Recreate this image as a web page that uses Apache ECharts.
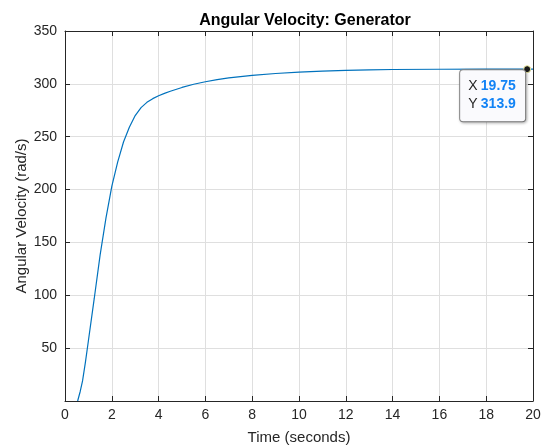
<!DOCTYPE html>
<html>
<head>
<meta charset="utf-8">
<script src="https://cdn.jsdelivr.net/npm/echarts@6/dist/echarts.min.js"></script>
<style>html,body{margin:0;padding:0;background:#fff;}#c{width:544px;height:446px;}</style>
</head>
<body>
<div id="c"></div>
<script>
// Data (time in seconds, angular velocity in rad/s)
var timeValues = [0.54, 0.65, 0.75, 0.875, 1.0, 1.25, 1.5, 1.75, 2.0, 2.25, 2.5, 2.75, 3.0, 3.25, 3.5, 3.75, 4.0, 4.25, 4.5, 5.0, 5.5, 6.0, 6.5, 7.0, 7.5, 8.0, 9.0, 10.0, 11.0, 12.0, 13.0, 14.0, 16.0, 18.0, 19.75, 20.0];
var velocityValues = [0, 9, 19, 37, 57, 97, 138, 173, 203, 226, 245, 259, 270, 277.5, 282.5, 286, 288.7, 291, 293, 296.6, 299.6, 302, 304, 305.6, 306.9, 308, 309.8, 311.1, 312.1, 312.8, 313.3, 313.6, 313.8, 313.9, 313.9, 313.9];
var xTicks = [0, 2, 4, 6, 8, 10, 12, 14, 16, 18, 20];
var yTicks = [50, 100, 150, 200, 250, 300, 350];
var tipX = 19.75;
var tipY = 313.9;
var titleText = 'Angular Velocity: Generator';
var xLabel = 'Time (seconds)';
var yLabel = 'Angular Velocity (rad/s)';

var seriesData = timeValues.map(function (t, i) { return [t, velocityValues[i]]; });

var axisColor = '#262626';
var font = 'Liberation Sans, Arial, Helvetica, sans-serif';

var chart = echarts.init(document.getElementById('c'), null, {renderer: 'canvas'});
chart.setOption({
  animation: false,
  backgroundColor: '#fff',
  title: {
    text: titleText,
    left: 300, textAlign: 'center', top: 8,
    textStyle: {fontFamily: font, fontSize: 16, fontWeight: 'bold', color: '#000'}
  },
  grid: {left: 65, right: 11, top: 31, bottom: 45, containLabel: false, outerBoundsMode: 'none'},
  xAxis: [{
    type: 'value', min: xTicks[0], max: xTicks[xTicks.length - 1], interval: 2,
    name: xLabel, nameLocation: 'middle', nameGap: 29, nameMoveOverlap: false,
    nameTextStyle: {fontFamily: font, fontSize: 15, color: axisColor},
    axisLine: {show: true, onZero: false, lineStyle: {color: axisColor, width: 1}},
    axisTick: {show: true, inside: true, length: 5, lineStyle: {color: axisColor}},
    axisLabel: {fontFamily: font, fontSize: 14, color: axisColor, margin: 7},
    splitLine: {show: true, lineStyle: {color: '#dfdfdf', width: 1}}
  }, {
    type: 'value', position: 'top', min: xTicks[0], max: xTicks[xTicks.length - 1], interval: 2,
    axisLine: {show: true, onZero: false, lineStyle: {color: axisColor, width: 1}},
    axisTick: {show: true, inside: true, length: 5, lineStyle: {color: axisColor}},
    axisLabel: {show: false}, splitLine: {show: false}
  }],
  yAxis: [{
    type: 'value', min: 0, max: yTicks[yTicks.length - 1], interval: 50,
    name: yLabel, nameLocation: 'middle', nameGap: 36, nameMoveOverlap: false,
    nameTextStyle: {fontFamily: font, fontSize: 15, color: axisColor},
    axisLine: {show: true, onZero: false, lineStyle: {color: axisColor, width: 1}},
    axisTick: {show: true, inside: true, length: 5, lineStyle: {color: axisColor}},
    axisLabel: {fontFamily: font, fontSize: 14, color: axisColor, margin: 8, showMinLabel: false},
    splitLine: {show: true, lineStyle: {color: '#dfdfdf', width: 1}}
  }, {
    type: 'value', position: 'right', min: 0, max: yTicks[yTicks.length - 1], interval: 50,
    axisLine: {show: true, onZero: false, lineStyle: {color: axisColor, width: 1}},
    axisTick: {show: true, inside: true, length: 5, lineStyle: {color: axisColor}},
    axisLabel: {show: false}, splitLine: {show: false}
  }],
  series: [{
    type: 'line',
    data: seriesData,
    smooth: false,
    showSymbol: false,
    lineStyle: {color: '#0072BD', width: 1.2},
    itemStyle: {color: '#0072BD'},
    markPoint: {
      symbol: 'circle',
      symbolSize: 7,
      itemStyle: {color: '#1a1a1a', borderColor: '#f2f0a8', borderWidth: 1},
      data: [{coord: [tipX, tipY], value: tipY}],
      label: {
        show: true,
        position: [-63, 5],
        align: 'left',
        verticalAlign: 'top',
        formatter: function () {
          return '{k|X} {v|' + tipX + '}\n{k|Y} {v|' + tipY + '}';
        },
        backgroundColor: '#fafafd',
        borderColor: '#8a8a8a',
        borderWidth: 1,
        borderRadius: 3,
        padding: [7, 7, 8, 8],
        width: 50,
        shadowColor: 'rgba(0,0,0,0.25)',
        shadowBlur: 3,
        shadowOffsetX: 1,
        shadowOffsetY: 1,
        rich: {
          k: {fontFamily: font, fontSize: 14, color: '#262626', lineHeight: 18},
          v: {fontFamily: font, fontSize: 14, fontWeight: 'bold', color: '#1283f5', lineHeight: 18}
        }
      }
    }
  }]
});
</script>
</body>
</html>
